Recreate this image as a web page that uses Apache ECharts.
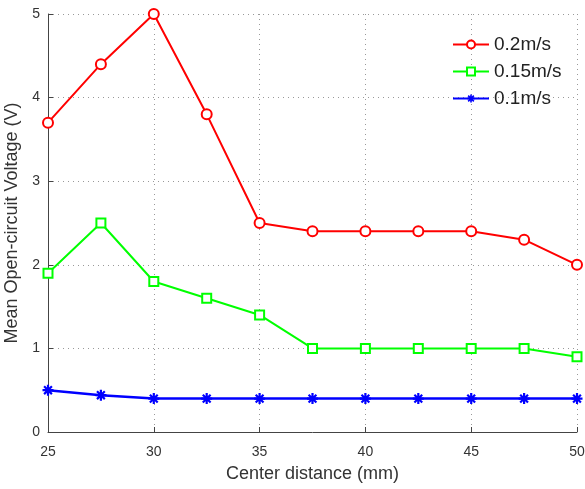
<!DOCTYPE html>
<html>
<head>
<meta charset="utf-8">
<script src="https://cdn.jsdelivr.net/npm/echarts@6/dist/echarts.min.js"></script>
<style>
  html, body { margin: 0; padding: 0; background: #fff; }
  #chart { width: 585px; height: 489px; }
</style>
</head>
<body>
<div id="chart"></div>
<script>
// center distance (mm)
const distance = [25, 27.5, 30, 32.5, 35, 37.5, 40, 42.5, 45, 47.5, 50]
// mean open-circuit voltage (V) per flow speed
const v02 = [3.7, 4.4, 5.0, 3.8, 2.5, 2.4, 2.4, 2.4, 2.4, 2.3, 2.0]
const v015 = [1.9, 2.5, 1.8, 1.6, 1.4, 1.0, 1.0, 1.0, 1.0, 1.0, 0.9]
const v01 = [0.5, 0.44, 0.4, 0.4, 0.4, 0.4, 0.4, 0.4, 0.4, 0.4, 0.4]
const seriesNames = ['0.2m/s', '0.15m/s', '0.1m/s']

const pair = arr => arr.map((v, i) => [distance[i], v])

// asterisk marker, like matlab '*'
const star = 'path://M8,0h4v20h-4z M0,8h20v4h-20z M1.5,4.3l2.8,-2.8l14.2,14.2l-2.8,2.8z M4.3,18.5l-2.8,-2.8l14.2,-14.2l2.8,2.8z'

const font = 'Liberation Sans, Arial, sans-serif'

const chart = echarts.init(document.getElementById('chart'))
chart.setOption({
  animation: false,
  textStyle: { fontFamily: font },
  grid: { left: 48, right: 8, top: 14, bottom: 57, outerBoundsMode: 'none', containLabel: false },
  legend: {
    orient: 'vertical',
    left: 447,
    top: 30,
    itemGap: 8,
    itemWidth: 36,
    itemHeight: 10,
    textStyle: { fontSize: 19, color: '#222', fontFamily: font },
    data: seriesNames
  },
  xAxis: {
    type: 'value',
    min: 25,
    max: 50,
    interval: 5,
    name: 'Center distance (mm)',
    nameLocation: 'middle',
    nameGap: 33,
    nameTextStyle: { fontSize: 18, color: '#333' },
    axisLine: { lineStyle: { color: '#444', width: 1 } },
    axisTick: { inside: true, length: 5, lineStyle: { color: '#444' } },
    axisLabel: { fontSize: 14, color: '#333', margin: 13 },
    splitLine: { show: true, lineStyle: { type: [1, 4], color: '#999' } }
  },
  yAxis: {
    type: 'value',
    min: 0,
    max: 5,
    interval: 1,
    name: 'Mean Open-circuit Voltage (V)',
    nameLocation: 'middle',
    nameGap: 25,
    nameTextStyle: { fontSize: 18, color: '#333' },
    axisLine: { show: true, lineStyle: { color: '#444', width: 1 } },
    axisTick: { show: true, inside: true, length: 5, lineStyle: { color: '#444' } },
    axisLabel: { fontSize: 14, color: '#333', margin: 8 },
    splitLine: { show: true, lineStyle: { type: [1, 4], color: '#999' } }
  },
  series: [
    {
      name: seriesNames[0],
      type: 'line',
      data: pair(v02),
      symbol: 'emptyCircle',
      symbolSize: 10,
      lineStyle: { color: '#ff0000', width: 2 },
      itemStyle: { color: '#ff0000', borderWidth: 2 }
    },
    {
      name: seriesNames[1],
      type: 'line',
      data: pair(v015),
      symbol: 'emptyRect',
      symbolSize: 9,
      lineStyle: { color: '#00ff00', width: 2 },
      itemStyle: { color: '#00ff00', borderWidth: 2 }
    },
    {
      name: seriesNames[2],
      type: 'line',
      data: pair(v01),
      symbol: star,
      symbolSize: 11,
      lineStyle: { color: '#0000ff', width: 2.5 },
      itemStyle: { color: '#0000ff' }
    }
  ]
})
</script>
</body>
</html>
